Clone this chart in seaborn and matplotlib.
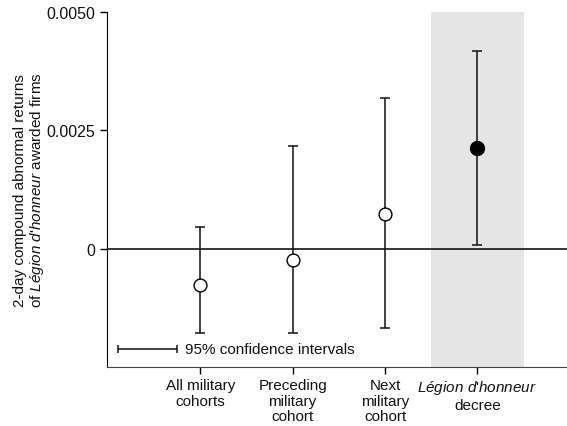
import numpy as np
import pandas as pd
import matplotlib
matplotlib.use("Agg")
import matplotlib.pyplot as plt
import seaborn as sns

# Data
categories = ["All military\ncohorts", "Preceding\nmilitary\ncohort", "Next\nmilitary\ncohort",
              "$\\it{Légion}$ $\\it{d}$'$\\it{honneur}$\ndecree"]
estimates = [-0.00078, -0.00025, 0.00074, 0.00212]
ci_low = [-0.00178, -0.00178, -0.00168, 0.00008]
ci_high = [0.00045, 0.00216, 0.00318, 0.00417]
kind = ["cohort", "cohort", "cohort", "decree"]

sns.set_style("ticks")
plt.rcParams["font.family"] = ["Liberation Sans", "DejaVu Sans"]
plt.rcParams["mathtext.fontset"] = "custom"
plt.rcParams["mathtext.rm"] = "Liberation Sans"
plt.rcParams["mathtext.it"] = "Liberation Sans:italic"
plt.rcParams["text.color"] = "#111111"
plt.rcParams["axes.labelcolor"] = "#111111"

df = pd.DataFrame({"pos": np.arange(len(categories)), "est": estimates,
                   "lo": ci_low, "hi": ci_high, "kind": kind})

fig = plt.figure(figsize=(5.67, 4.27), dpi=100)
ax = fig.add_axes([0.1887, 0.139, 0.8113, 0.83])

# shaded region behind the decree estimate
ax.axvspan(2.5, 3.5, color="#e5e5e5", zorder=0, lw=0)
ax.axhline(0, color="black", lw=1.1, zorder=1)

yerr = [df["est"] - df["lo"], df["hi"] - df["est"]]
ax.errorbar(df["pos"], df["est"], yerr=yerr, fmt="none", ecolor="#111111",
            elinewidth=1.1, capsize=3.8, capthick=1.1, zorder=2)

sns.scatterplot(data=df[df["kind"] == "cohort"], x="pos", y="est", ax=ax,
                s=85, facecolor="white", edgecolor="black", linewidth=1.0, zorder=3)
sns.scatterplot(data=df[df["kind"] == "decree"], x="pos", y="est", ax=ax,
                s=100, color="black", edgecolor="black", linewidth=1, zorder=3)

# legend key for the confidence intervals
ax.errorbar([0.088], [0.051], xerr=[[0.064], [0.064]], fmt="none", ecolor="#111111",
            elinewidth=1.1, capsize=3, capthick=1.1, transform=ax.transAxes)
ax.text(0.169, 0.051, "95% confidence intervals", transform=ax.transAxes,
        va="center", ha="left", fontsize=11)

ax.set_xlim(-1.01, 3.97)
ax.set_ylim(-0.0025, 0.005)
ax.set_xticks(df["pos"])
ax.set_xticklabels(categories, fontsize=11, linespacing=1.1)
ax.set_yticks([0, 0.0025, 0.005])
ax.set_yticklabels(["0", "0.0025", "0.0050"], fontsize=11.5)
ax.tick_params(length=5, width=1, colors="black", labelcolor="#111111")
ax.set_xlabel("")
ax.set_ylabel("2-day compound abnormal returns\nof $\\it{Légion}$ $\\it{d}$'$\\it{honneur}$ awarded firms",
              fontsize=11, linespacing=1.1, labelpad=0)

sns.despine(ax=ax)
ax.spines["left"].set_color("black")
ax.spines["bottom"].set_color("#444444")

fig.savefig("out.png", dpi=100)
